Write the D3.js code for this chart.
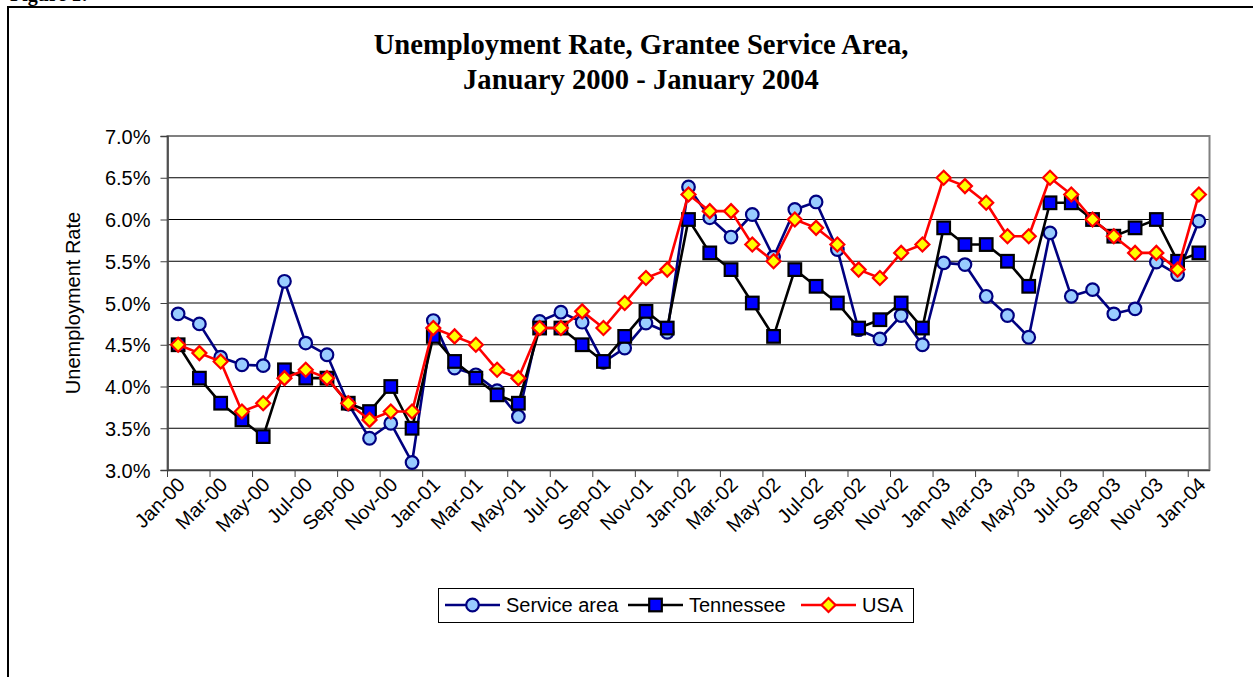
<!DOCTYPE html>
<html><head><meta charset="utf-8">
<script src="https://cdn.jsdelivr.net/npm/d3@7"></script>
<style>body{margin:0;background:#fff}</style>
</head><body><svg id="c" width="1253" height="677"></svg>
<script>
const months = ["Jan-00","Feb-00","Mar-00","Apr-00","May-00","Jun-00","Jul-00","Aug-00","Sep-00","Oct-00","Nov-00","Dec-00",
"Jan-01","Feb-01","Mar-01","Apr-01","May-01","Jun-01","Jul-01","Aug-01","Sep-01","Oct-01","Nov-01","Dec-01",
"Jan-02","Feb-02","Mar-02","Apr-02","May-02","Jun-02","Jul-02","Aug-02","Sep-02","Oct-02","Nov-02","Dec-02",
"Jan-03","Feb-03","Mar-03","Apr-03","May-03","Jun-03","Jul-03","Aug-03","Sep-03","Oct-03","Nov-03","Dec-03","Jan-04"];
const serviceArea = [4.87,4.75,4.35,4.26,4.25,5.26,4.52,4.38,3.79,3.38,3.56,3.09,4.79,
4.22,4.14,3.95,3.64,4.78,4.89,4.77,4.29,4.46,4.76,4.65,6.39,
6.02,5.79,6.06,5.55,6.12,6.21,5.64,4.68,4.57,4.85,4.50,5.48,
5.46,5.08,4.85,4.59,5.84,5.08,5.16,4.87,4.93,5.49,5.34,5.98];
const tennessee = [4.5,4.1,3.8,3.6,3.4,4.2,4.1,4.1,3.8,3.7,4.0,3.5,4.6,
4.3,4.1,3.9,3.8,4.7,4.7,4.5,4.3,4.6,4.9,4.7,6.0,
5.6,5.4,5.0,4.6,5.4,5.2,5.0,4.7,4.8,5.0,4.7,5.9,
5.7,5.7,5.5,5.2,6.2,6.2,6.0,5.8,5.9,6.0,5.5,5.6];
const usa = [4.5,4.4,4.3,3.7,3.8,4.1,4.2,4.1,3.8,3.6,3.7,3.7,4.7,
4.6,4.5,4.2,4.1,4.7,4.7,4.9,4.7,5.0,5.3,5.4,6.3,
6.1,6.1,5.7,5.5,6.0,5.9,5.7,5.4,5.3,5.6,5.7,6.5,
6.4,6.2,5.8,5.8,6.5,6.3,6.0,5.8,5.6,5.6,5.4,6.3];
const yTicks = [3.0,3.5,4.0,4.5,5.0,5.5,6.0,6.5,7.0];
const titleLines = ["Unemployment Rate, Grantee Service Area,","January 2000 - January 2004"];
const seriesNames = ["Service area","Tennessee","USA"];

const svg = d3.select("#c");
const plot = {left:167.5, right:1209.5, top:136, bottom:470};
const x = d3.scaleBand().domain(months).range([plot.left, plot.right]);
const cx = d => x(d) + x.bandwidth()/2;
const y = d3.scaleLinear().domain([3,7]).range([plot.bottom, plot.top]);

svg.append("rect").attr("width",1253).attr("height",677).attr("fill","#fff");
// outer frame
svg.append("path").attr("d","M8,677V7H1253").attr("fill","none").attr("stroke","#000").attr("stroke-width",2);
// figure caption (cut off at top, as in the reference)
svg.append("text").attr("x",10).attr("y",1).attr("font-family","Liberation Serif").attr("font-weight","bold").attr("font-size",20).text("Figure 1:");

// title
svg.selectAll("text.title").data(titleLines).join("text").attr("class","title")
  .attr("x",641).attr("y",(d,i)=>54+i*35).attr("text-anchor","middle")
  .attr("font-family","Liberation Serif").attr("font-weight","bold").attr("font-size",28.6).text(d=>d);

// gridlines
svg.append("g").selectAll("line").data(yTicks).join("line")
  .attr("x1",plot.left).attr("x2",plot.right).attr("y1",d=>y(d)).attr("y2",d=>y(d))
  .attr("stroke","#000").attr("stroke-width",1);
// plot border
svg.append("rect").attr("x",plot.left).attr("y",plot.top).attr("width",plot.right-plot.left).attr("height",plot.bottom-plot.top)
  .attr("fill","none").attr("stroke","#808080").attr("stroke-width",2);

// y axis
const ya = svg.append("g").attr("transform",`translate(${plot.left},0)`)
  .call(d3.axisLeft(y).tickValues(yTicks).tickFormat(d=>d.toFixed(1)+"%").tickSize(7).tickPadding(10));
ya.select(".domain").attr("stroke","#404040").attr("stroke-width",1.5);
ya.selectAll(".tick line").attr("stroke","#404040");
ya.selectAll("text").attr("font-family","Liberation Sans").attr("font-size",20).attr("fill","#000").attr("dy","0.35em");

// x axis
const evenMonths = months.filter((d,i)=>i%2===0);
const xa = svg.append("g").attr("transform",`translate(0,${plot.bottom})`)
  .call(d3.axisBottom(x).tickValues(evenMonths).tickSize(0).tickPadding(0));
xa.select(".domain").attr("stroke","#404040").attr("stroke-width",1.5);
xa.selectAll("text").attr("font-family","Liberation Sans").attr("font-size",20).attr("fill","#000")
  .attr("x",0).attr("y",0).attr("dy",0).attr("text-anchor","end")
  .attr("transform","translate(8,16) rotate(-45)");
svg.append("g").selectAll("line").data(evenMonths).join("line")
  .attr("x1",d=>x(d)).attr("x2",d=>x(d)).attr("y1",plot.bottom).attr("y2",plot.bottom+7)
  .attr("stroke","#404040").attr("stroke-width",1);

// y axis title
svg.append("text").attr("transform","translate(80,303) rotate(-90)").attr("text-anchor","middle")
  .attr("font-family","Liberation Sans").attr("font-size",20).text("Unemployment Rate");

// series
const styles = [
  {vals:serviceArea, line:"#000080", fill:"#99CCFF", stroke:"#000080", shape:"circle"},
  {vals:tennessee, line:"#000000", fill:"#0000FF", stroke:"#000000", shape:"square"},
  {vals:usa, line:"#FF0000", fill:"#FFFF00", stroke:"#FF0000", shape:"diamond"}
];
function marker(g, s){
  if(s.shape==="circle") g.append("circle").attr("r",6.3);
  else if(s.shape==="square") g.append("rect").attr("x",-6.3).attr("y",-6.3).attr("width",12.6).attr("height",12.6);
  else g.append("path").attr("d","M0,-7L7,0L0,7L-7,0Z");
  g.selectAll("*").attr("fill",s.fill).attr("stroke",s.stroke).attr("stroke-width",2.2);
}
const line = d3.line().x((d,i)=>cx(months[i])).y(d=>y(d));
styles.forEach(s=>{
  svg.append("path").datum(s.vals).attr("d",line).attr("fill","none").attr("stroke",s.line).attr("stroke-width",2.6).attr("stroke-linejoin","round");
  s.vals.forEach((v,i)=>{
    const g = svg.append("g").attr("transform",`translate(${cx(months[i])},${y(v)})`);
    marker(g,s);
  });
});

// legend
const lg = svg.append("g");
lg.append("rect").attr("x",438.5).attr("y",588.5).attr("width",475).attr("height",34).attr("fill","#fff").attr("stroke","#000").attr("stroke-width",1);
const lx = [445, 628, 801];
styles.forEach((s,i)=>{
  const g = lg.append("g").attr("transform",`translate(${lx[i]},605)`);
  g.append("line").attr("x1",0).attr("x2",55).attr("stroke",s.line).attr("stroke-width",2.6);
  const m = g.append("g").attr("transform","translate(27.5,0)");
  marker(m,s);
  g.append("text").attr("x",61).attr("y",0).attr("dy","0.35em").attr("font-family","Liberation Sans").attr("font-size",20).text(seriesNames[i]);
});
</script></body></html>
